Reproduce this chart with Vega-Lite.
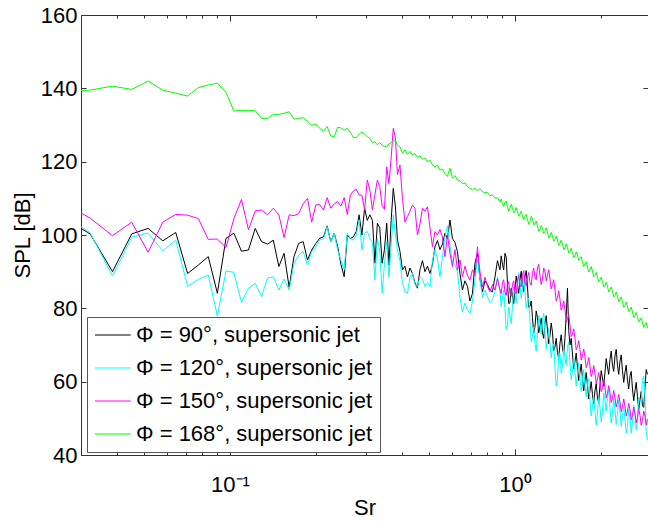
{
"$schema": "https://vega.github.io/schema/vega-lite/v6.json",
"width": 567, "height": 440,
"autosize": {"type": "none"},
"padding": {"left": 81, "top": 15, "right": 0, "bottom": 66},
"background": "white",
"config": {"view": {"stroke": null}, "font": "Liberation Sans",
 "axis": {"domainColor": "#333", "tickColor": "#333", "labelColor": "#000", "titleColor": "#000", "grid": false, "labelFontSize": 22, "titleFontSize": 22, "titleFontWeight": "normal", "labelFont": "Liberation Sans", "titleFont": "Liberation Sans"}},
"data": {"values": [
{"f":0.03,"k":101.8,"c":102.3,"m":106.0,"g":139.4},
{"f":0.0323,"k":100.3,"c":100.6,"m":104.6,"g":139.5},
{"f":0.0387,"k":90.0,"c":88.8,"m":99.8,"g":140.6},
{"f":0.0452,"k":100.3,"c":99.4,"m":103.5,"g":139.7},
{"f":0.0516,"k":101.8,"c":100.5,"m":95.3,"g":142.0},
{"f":0.0581,"k":98.4,"c":95.7,"m":103.5,"g":139.5},
{"f":0.0645,"k":100.7,"c":98.6,"m":105.6,"g":138.7},
{"f":0.0710,"k":89.5,"c":86.0,"m":105.4,"g":137.9},
{"f":0.0774,"k":91.8,"c":87.9,"m":104.5,"g":140.2},
{"f":0.0839,"k":94.1,"c":89.1,"m":98.8,"g":140.9},
{"f":0.0903,"k":84.1,"c":77.9,"m":98.9,"g":141.4},
{"f":0.0968,"k":99.1,"c":90.2,"m":96.6,"g":138.9},
{"f":0.1032,"k":100.5,"c":89.8,"m":104.5,"g":133.8},
{"f":0.1097,"k":95.6,"c":81.6,"m":109.7,"g":134.0},
{"f":0.1161,"k":95.9,"c":85.5,"m":101.4,"g":134.0},
{"f":0.1226,"k":101.8,"c":86.8,"m":106.6,"g":133.9},
{"f":0.1290,"k":98.2,"c":83.2,"m":106.8,"g":131.8},
{"f":0.1355,"k":97.5,"c":88.3,"m":105.5,"g":131.8},
{"f":0.1419,"k":98.6,"c":88.6,"m":107.3,"g":132.9},
{"f":0.1484,"k":91.4,"c":85.0,"m":105.5,"g":132.9},
{"f":0.1548,"k":95.0,"c":88.0,"m":99.3,"g":133.2},
{"f":0.1613,"k":85.7,"c":85.0,"m":105.5,"g":133.6},
{"f":0.1677,"k":94.1,"c":92.3,"m":105.3,"g":131.6},
{"f":0.1742,"k":97.7,"c":94.5,"m":105.8,"g":131.8},
{"f":0.1806,"k":98.2,"c":95.5,"m":108.5,"g":132.0},
{"f":0.1871,"k":93.2,"c":91.8,"m":110.0,"g":131.0},
{"f":0.1935,"k":95.9,"c":95.5,"m":103.5,"g":129.9},
{"f":0.2000,"k":97.7,"c":96.8,"m":108.2,"g":130.3},
{"f":0.2064,"k":99.1,"c":98.6,"m":108.3,"g":129.1},
{"f":0.2129,"k":99.5,"c":99.0,"m":106.8,"g":128.3},
{"f":0.2193,"k":102.5,"c":102.3,"m":110.2,"g":129.6},
{"f":0.2258,"k":98.2,"c":98.2,"m":107.3,"g":127.0},
{"f":0.2322,"k":100.5,"c":100.5,"m":108.5,"g":126.8},
{"f":0.2387,"k":96.8,"c":95.9,"m":109.1,"g":129.4},
{"f":0.2451,"k":92.0,"c":93.0,"m":107.9,"g":129.2},
{"f":0.2516,"k":88.6,"c":90.5,"m":110.2,"g":128.6},
{"f":0.2580,"k":100.0,"c":100.5,"m":105.6,"g":129.1},
{"f":0.2645,"k":99.0,"c":99.0,"m":110.9,"g":128.0},
{"f":0.2709,"k":99.5,"c":98.6,"m":112.0,"g":126.6},
{"f":0.2774,"k":101.0,"c":100.0,"m":112.5,"g":126.5},
{"f":0.2838,"k":105.5,"c":104.1,"m":110.9,"g":127.5},
{"f":0.2903,"k":100.0,"c":95.9,"m":110.9,"g":128.1},
{"f":0.2967,"k":107.3,"c":100.5,"m":106.8,"g":127.5},
{"f":0.3032,"k":104.0,"c":101.0,"m":115.0,"g":126.8},
{"f":0.3096,"k":105.5,"c":99.0,"m":112.3,"g":126.4},
{"f":0.3161,"k":104.0,"c":98.0,"m":106.8,"g":125.2},
{"f":0.3225,"k":92.3,"c":87.7,"m":111.0,"g":125.4},
{"f":0.3290,"k":103.2,"c":99.0,"m":115.0,"g":124.6},
{"f":0.3354,"k":102.0,"c":95.9,"m":113.2,"g":125.2},
{"f":0.3419,"k":92.3,"c":84.1,"m":108.0,"g":124.5},
{"f":0.3483,"k":96.0,"c":92.0,"m":107.0,"g":124.1},
{"f":0.3548,"k":103.2,"c":98.0,"m":118.6,"g":124.2},
{"f":0.3612,"k":91.8,"c":88.6,"m":114.0,"g":124.8},
{"f":0.3677,"k":104.0,"c":97.0,"m":121.0,"g":125.2},
{"f":0.3741,"k":112.7,"c":105.5,"m":129.1,"g":125.6},
{"f":0.3806,"k":107.7,"c":100.0,"m":126.5,"g":125.8},
{"f":0.3870,"k":98.6,"c":95.9,"m":116.5,"g":124.5},
{"f":0.3949,"k":95.5,"c":93.0,"m":119.1,"g":124.0},
{"f":0.4029,"k":90.5,"c":87.0,"m":110.0,"g":122.3},
{"f":0.4111,"k":91.5,"c":84.5,"m":103.5,"g":123.2},
{"f":0.4195,"k":88.6,"c":84.1,"m":105.0,"g":122.0},
{"f":0.4281,"k":91.0,"c":88.5,"m":106.5,"g":122.8},
{"f":0.4368,"k":89.5,"c":89.5,"m":108.2,"g":121.8},
{"f":0.4457,"k":87.0,"c":86.5,"m":107.3,"g":122.2},
{"f":0.4548,"k":85.5,"c":85.9,"m":100.0,"g":121.2},
{"f":0.4641,"k":90.5,"c":88.6,"m":103.0,"g":121.6},
{"f":0.4736,"k":93.0,"c":88.0,"m":107.3,"g":120.6},
{"f":0.4832,"k":90.0,"c":86.0,"m":106.5,"g":121.0},
{"f":0.4931,"k":91.5,"c":87.0,"m":107.7,"g":120.0},
{"f":0.5031,"k":89.5,"c":85.9,"m":102.0,"g":120.4},
{"f":0.5134,"k":92.0,"c":93.0,"m":96.8,"g":119.2},
{"f":0.5239,"k":96.8,"c":96.0,"m":100.9,"g":118.6},
{"f":0.5346,"k":98.5,"c":93.5,"m":100.0,"g":119.0},
{"f":0.5455,"k":96.0,"c":88.6,"m":101.5,"g":117.7},
{"f":0.5566,"k":97.5,"c":94.0,"m":99.5,"g":118.0},
{"f":0.5680,"k":100.5,"c":99.5,"m":94.1,"g":116.8},
{"f":0.5796,"k":99.0,"c":102.5,"m":100.0,"g":116.0},
{"f":0.5914,"k":104.1,"c":97.0,"m":95.0,"g":118.2},
{"f":0.6034,"k":99.0,"c":92.5,"m":91.4,"g":115.5},
{"f":0.6157,"k":98.0,"c":92.0,"m":96.0,"g":116.2},
{"f":0.6283,"k":95.5,"c":90.0,"m":90.5,"g":115.0},
{"f":0.6411,"k":89.5,"c":83.0,"m":93.2,"g":114.8},
{"f":0.6542,"k":85.0,"c":79.1,"m":88.6,"g":114.0},
{"f":0.6676,"k":87.5,"c":81.5,"m":91.5,"g":114.2},
{"f":0.6812,"k":86.0,"c":79.5,"m":89.0,"g":113.2},
{"f":0.6951,"k":82.0,"c":78.6,"m":87.7,"g":112.7},
{"f":0.7093,"k":84.0,"c":82.0,"m":90.5,"g":112.3},
{"f":0.7238,"k":92.3,"c":87.7,"m":89.0,"g":112.8},
{"f":0.7385,"k":95.0,"c":94.0,"m":96.8,"g":112.0},
{"f":0.7536,"k":88.0,"c":88.0,"m":90.0,"g":112.7},
{"f":0.7690,"k":84.5,"c":83.0,"m":85.9,"g":111.8},
{"f":0.7847,"k":87.5,"c":85.0,"m":88.5,"g":111.5},
{"f":0.8007,"k":86.5,"c":83.2,"m":86.0,"g":111.6},
{"f":0.8170,"k":85.0,"c":81.5,"m":84.5,"g":110.7},
{"f":0.8337,"k":84.5,"c":82.3,"m":86.5,"g":110.9},
{"f":0.8507,"k":88.5,"c":84.5,"m":85.0,"g":110.0},
{"f":0.8681,"k":93.0,"c":88.6,"m":88.0,"g":110.2},
{"f":0.8858,"k":90.5,"c":85.0,"m":85.0,"g":109.0},
{"f":0.9039,"k":92.0,"c":83.0,"m":87.0,"g":108.6},
{"f":0.9223,"k":95.0,"c":80.0,"m":84.5,"g":108.9},
{"f":0.9411,"k":87.0,"c":75.5,"m":86.5,"g":107.7},
{"f":0.9604,"k":81.5,"c":78.0,"m":84.0,"g":107.3},
{"f":0.9800,"k":83.5,"c":80.5,"m":86.5,"g":107.5},
{"f":1.0000,"k":85.0,"c":84.0,"m":84.5,"g":106.5},
{"f":1.0204,"k":86.5,"c":85.5,"m":87.5,"g":106.4},
{"f":1.0412,"k":87.7,"c":86.8,"m":86.5,"g":105.7},
{"f":1.0625,"k":86.5,"c":85.5,"m":89.0,"g":105.2},
{"f":1.0842,"k":88.6,"c":85.0,"m":87.5,"g":105.0},
{"f":1.1063,"k":86.0,"c":82.0,"m":88.5,"g":104.2},
{"f":1.1289,"k":80.5,"c":76.5,"m":87.0,"g":103.6},
{"f":1.1519,"k":77.5,"c":72.3,"m":89.5,"g":104.5},
{"f":1.1754,"k":75.0,"c":70.5,"m":88.5,"g":103.0},
{"f":1.1994,"k":77.5,"c":73.0,"m":91.0,"g":102.5},
{"f":1.2239,"k":75.0,"c":75.9,"m":89.0,"g":101.4},
{"f":1.2489,"k":73.5,"c":76.8,"m":88.0,"g":101.8},
{"f":1.2743,"k":76.0,"c":73.5,"m":90.0,"g":101.0},
{"f":1.3004,"k":74.0,"c":71.4,"m":89.0,"g":100.8},
{"f":1.3269,"k":72.5,"c":70.5,"m":88.0,"g":99.5},
{"f":1.3540,"k":73.5,"c":69.5,"m":86.5,"g":99.8},
{"f":1.3816,"k":69.5,"c":64.0,"m":85.0,"g":98.8},
{"f":1.4098,"k":68.0,"c":60.5,"m":83.0,"g":98.6},
{"f":1.4386,"k":70.5,"c":67.7,"m":82.5,"g":97.7},
{"f":1.4679,"k":69.0,"c":64.1,"m":80.5,"g":97.5},
{"f":1.4979,"k":72.0,"c":66.5,"m":79.5,"g":96.5},
{"f":1.5285,"k":85.5,"c":69.5,"m":77.0,"g":96.6},
{"f":1.5597,"k":70.0,"c":65.0,"m":75.5,"g":95.5},
{"f":1.5915,"k":67.5,"c":63.2,"m":73.0,"g":95.2},
{"f":1.6240,"k":65.5,"c":62.5,"m":71.8,"g":94.3},
{"f":1.6571,"k":64.0,"c":62.3,"m":69.5,"g":94.5},
{"f":1.6909,"k":62.5,"c":61.0,"m":68.8,"g":93.6},
{"f":1.7254,"k":61.0,"c":60.5,"m":67.0,"g":92.6},
{"f":1.7606,"k":60.0,"c":59.0,"m":66.8,"g":92.2},
{"f":1.7966,"k":59.0,"c":59.5,"m":64.8,"g":91.2},
{"f":1.8332,"k":57.5,"c":55.0,"m":64.3,"g":90.5},
{"f":1.8706,"k":56.5,"c":53.2,"m":62.5,"g":90.2},
{"f":1.9088,"k":57.5,"c":52.0,"m":62.3,"g":89.0},
{"f":1.9478,"k":55.5,"c":51.4,"m":60.8,"g":88.6},
{"f":1.9875,"k":59.0,"c":53.0,"m":60.2,"g":87.7},
{"f":2.0281,"k":61.0,"c":52.0,"m":58.3,"g":87.3},
{"f":2.0695,"k":62.5,"c":55.0,"m":58.4,"g":86.2},
{"f":2.1117,"k":64.0,"c":55.9,"m":56.8,"g":86.0},
{"f":2.1548,"k":66.0,"c":53.0,"m":57.0,"g":85.0},
{"f":2.1988,"k":64.5,"c":51.4,"m":55.6,"g":84.6},
{"f":2.2437,"k":67.0,"c":52.5,"m":55.6,"g":83.5},
{"f":2.2895,"k":64.5,"c":51.0,"m":54.5,"g":83.3},
{"f":2.3362,"k":65.5,"c":52.0,"m":54.4,"g":82.3},
{"f":2.3839,"k":63.0,"c":50.5,"m":53.2,"g":81.8},
{"f":2.4325,"k":62.5,"c":49.5,"m":53.3,"g":80.8},
{"f":2.4822,"k":60.5,"c":47.7,"m":51.9,"g":80.6},
{"f":2.5328,"k":61.5,"c":50.0,"m":52.3,"g":79.5},
{"f":2.5845,"k":58.0,"c":49.0,"m":50.8,"g":79.0},
{"f":2.6373,"k":57.5,"c":51.0,"m":51.3,"g":78.0},
{"f":2.6911,"k":56.0,"c":49.5,"m":50.2,"g":77.8},
{"f":2.7460,"k":55.0,"c":55.0,"m":50.8,"g":76.8},
{"f":2.8021,"k":53.5,"c":60.5,"m":49.4,"g":76.0},
{"f":2.8593,"k":58.5,"c":55.5,"m":50.6,"g":75.5},
{"f":2.9176,"k":62.0,"c":44.1,"m":49.8,"g":74.6},
{"f":0.8947,"k":94.3,"c":80.5,"m":84.0,"g":109.8},
{"f":0.9130,"k":90.5,"c":85.0,"m":87.8,"g":107.8},
{"f":0.9316,"k":94.0,"c":74.3,"m":83.5,"g":109.3},
{"f":0.9506,"k":81.3,"c":80.3,"m":87.3,"g":106.5},
{"f":0.9701,"k":85.5,"c":75.8,"m":83.3,"g":108.4},
{"f":0.9899,"k":81.3,"c":85.8,"m":87.5,"g":106.0},
{"f":1.0101,"k":88.8,"c":81.3,"m":84.0,"g":107.5},
{"f":1.0307,"k":84.1,"c":89.7,"m":89.0,"g":105.1},
{"f":1.0517,"k":90.1,"c":82.7,"m":85.8,"g":106.5},
{"f":1.0732,"k":84.6,"c":88.8,"m":90.3,"g":104.1},
{"f":1.0952,"k":90.3,"c":80.0,"m":86.0,"g":105.6},
{"f":1.1175,"k":80.3,"c":82.8,"m":89.8,"g":102.9},
{"f":1.1403,"k":82.0,"c":70.9,"m":86.3,"g":105.1},
{"f":1.1635,"k":73.3,"c":74.9,"m":91.0,"g":102.8},
{"f":1.1873,"k":79.3,"c":68.3,"m":87.8,"g":103.8},
{"f":1.2115,"k":73.3,"c":78.0,"m":92.0,"g":101.0},
{"f":1.2363,"k":77.3,"c":72.9,"m":86.5,"g":102.6},
{"f":1.2615,"k":71.8,"c":78.7,"m":91.0,"g":100.4},
{"f":1.2872,"k":78.0,"c":69.0,"m":87.5,"g":101.9},
{"f":1.3135,"k":70.3,"c":74.5,"m":90.5,"g":99.2},
{"f":1.3403,"k":76.0,"c":66.5,"m":85.3,"g":100.7},
{"f":1.3677,"k":68.5,"c":70.3,"m":87.8,"g":98.3},
{"f":1.3956,"k":71.8,"c":58.8,"m":82.0,"g":99.7},
{"f":1.4240,"k":66.3,"c":67.6,"m":84.8,"g":97.2},
{"f":1.4531,"k":72.8,"c":62.4,"m":79.5,"g":98.6},
{"f":1.4827,"k":67.5,"c":68.8,"m":82.0,"g":96.0},
{"f":1.5130,"k":78.0,"c":64.5,"m":76.3,"g":97.6},
{"f":1.5439,"k":74.0,"c":70.8,"m":78.3,"g":95.1},
{"f":1.5755,"k":71.8,"c":60.6,"m":72.3,"g":96.4},
{"f":1.6076,"k":63.5,"c":66.4,"m":74.4,"g":93.8},
{"f":1.6404,"k":67.8,"c":58.9,"m":68.7,"g":95.4},
{"f":1.6738,"k":60.3,"c":65.2,"m":71.2,"g":93.1},
{"f":1.7080,"k":64.8,"c":57.3,"m":65.9,"g":94.1},
{"f":1.7428,"k":57.5,"c":63.3,"m":68.9,"g":91.4},
{"f":1.7784,"k":62.5,"c":55.8,"m":63.8,"g":92.7},
{"f":1.8147,"k":55.3,"c":60.8,"m":66.6,"g":89.9},
{"f":1.8517,"k":60.0,"c":50.6,"m":61.4,"g":91.4},
{"f":1.8895,"k":54.0,"c":56.1,"m":64.4,"g":88.6},
{"f":1.9281,"k":59.5,"c":48.2,"m":59.6,"g":89.8},
{"f":1.9675,"k":54.3,"c":55.7,"m":62.5,"g":87.2},
{"f":2.0076,"k":63.0,"c":49.0,"m":57.3,"g":88.5},
{"f":2.0486,"k":58.8,"c":57.0,"m":60.4,"g":85.8},
{"f":2.0904,"k":66.3,"c":52.0,"m":55.6,"g":87.1},
{"f":2.1330,"k":62.0,"c":58.0,"m":58.9,"g":84.5},
{"f":2.1766,"k":68.3,"c":48.7,"m":54.3,"g":85.8},
{"f":2.2210,"k":62.8,"c":55.5,"m":57.6,"g":83.1},
{"f":2.2664,"k":68.8,"c":48.3,"m":53.1,"g":84.4},
{"f":2.3126,"k":62.0,"c":55.0,"m":56.5,"g":81.8},
{"f":2.3598,"k":67.3,"c":47.8,"m":51.8,"g":83.1},
{"f":2.4080,"k":59.8,"c":53.5,"m":55.3,"g":80.3},
{"f":2.4571,"k":64.5,"c":46.0,"m":50.6,"g":81.7},
{"f":2.5073,"k":58.0,"c":52.4,"m":54.1,"g":79.1},
{"f":2.5584,"k":62.8,"c":46.0,"m":49.6,"g":80.3},
{"f":2.6106,"k":54.8,"c":53.5,"m":53.1,"g":77.5},
{"f":2.6639,"k":59.8,"c":46.8,"m":48.8,"g":78.9},
{"f":2.7183,"k":52.5,"c":55.8,"m":52.5,"g":76.3},
{"f":2.7737,"k":57.3,"c":54.3,"m":48.1,"g":77.4},
{"f":2.8304,"k":53.0,"c":61.5,"m":52.0,"g":74.8},
{"f":2.8882,"k":63.3,"c":46.3,"m":48.2,"g":76.1}
]},
"transform": [{"fold": ["k", "c", "m", "g"], "as": ["series", "spl"]}],
"layer": [
 {"mark": {"type": "line", "strokeWidth": 1, "clip": true},
  "encoding": {
   "x": {"field": "f", "type": "quantitative", "scale": {"type": "log", "domain": [0.03, 2.93], "nice": false},
    "axis": {"orient": "bottom", "values": [0.1, 1], "tickSize": -6, "labelPadding": 25, "labelExpr": "datum.value == 1 ? '10⁰' : '10⁻¹'", "title": "Sr", "titlePadding": 2}},
   "y": {"field": "spl", "type": "quantitative", "scale": {"domain": [40, 160], "nice": false, "zero": false},
    "axis": {"orient": "left", "values": [40, 60, 80, 100, 120, 140, 160], "tickSize": -5, "labelPadding": 9, "title": "SPL [dB]", "titlePadding": 6}},
   "color": {"field": "series", "type": "nominal", "scale": {"domain": ["k", "c", "m", "g"], "range": ["#000000", "#00ffff", "#ff00ff", "#00ff00"]},
    "legend": {"orient": "none", "legendX": 6, "legendY": 302, "title": null, "symbolType": "M-1,0L2.56,0", "symbolSize": 400, "symbolStrokeWidth": 1, "labelFontSize": 22, "labelFont": "Liberation Sans", "labelColor": "#000", "labelOffset": 20, "padding": 7, "strokeColor": "#555", "fillColor": "white", "rowPadding": 11, "labelLimit": 400,
     "labelExpr": "datum.value == 'k' ? 'Φ = 90°, supersonic jet' : datum.value == 'c' ? 'Φ = 120°, supersonic jet' : datum.value == 'm' ? 'Φ = 150°, supersonic jet' : 'Φ = 168°, supersonic jet'"}}
  }},
 {"mark": {"type": "line", "opacity": 0},
  "encoding": {
   "x": {"field": "f", "type": "quantitative", "scale": {"type": "log", "domain": [0.03, 2.93], "nice": false},
    "axis": {"orient": "bottom", "values": [0.03, 0.04, 0.05, 0.06, 0.07, 0.08, 0.09, 0.2, 0.3, 0.4, 0.5, 0.6, 0.7, 0.8, 0.9, 2], "tickSize": -3, "labels": false, "domain": false, "title": null}},
   "y": {"field": "spl", "type": "quantitative", "scale": {"domain": [40, 160], "nice": false, "zero": false},
    "axis": {"orient": "right", "values": [40, 60, 80, 100, 120, 140, 160], "tickSize": -5, "labels": false, "domain": false, "title": null}}
  }},
 {"mark": {"type": "line", "opacity": 0},
  "encoding": {
   "x": {"field": "f", "type": "quantitative", "scale": {"type": "log", "domain": [0.03, 2.93], "nice": false},
    "axis": {"orient": "top", "values": [0.1, 1], "tickSize": -6, "labels": false, "title": null}},
   "y": {"field": "spl", "type": "quantitative", "scale": {"domain": [40, 160], "nice": false, "zero": false}, "axis": null}
  }},
 {"mark": {"type": "line", "opacity": 0},
  "encoding": {
   "x": {"field": "f", "type": "quantitative", "scale": {"type": "log", "domain": [0.03, 2.93], "nice": false},
    "axis": {"orient": "top", "values": [0.03, 0.04, 0.05, 0.06, 0.07, 0.08, 0.09, 0.2, 0.3, 0.4, 0.5, 0.6, 0.7, 0.8, 0.9, 2], "tickSize": -3, "labels": false, "domain": false, "title": null}},
   "y": {"field": "spl", "type": "quantitative", "scale": {"domain": [40, 160], "nice": false, "zero": false}, "axis": null}
  }}
],
"resolve": {"axis": {"x": "independent", "y": "independent"}}
}
